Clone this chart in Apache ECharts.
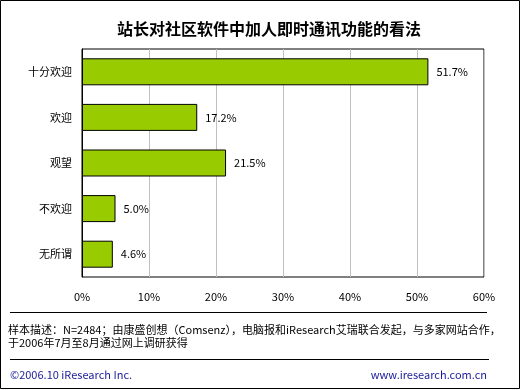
<!DOCTYPE html>
<html><head><meta charset="utf-8">
<script src="https://cdn.jsdelivr.net/npm/echarts@6/dist/echarts.min.js"></script>
<style>html,body{margin:0;padding:0;background:#fff}#c{width:521px;height:390px}</style>
</head><body><div id="c"></div>
<script>
const categories = ['十分欢迎', '欢迎', '观望', '不欢迎', '无所谓'];
const values = [51.7, 17.2, 21.5, 5.0, 4.6];
const xTicks = [0, 10, 20, 30, 40, 50, 60];
const titleText = '站长对社区软件中加人即时通讯功能的看法';
const noteLine1 = '样本描述：N=2484；由康盛创想（Comsenz），电脑报和iResearch艾瑞联合发起，与多家网站合作，';
const noteLine2 = '于2006年7月至8月通过网上调研获得';
const copyright = '©2006.10 iResearch Inc.';
const website = 'www.iresearch.com.cn';

const font = '"Noto Sans CJK SC", sans-serif';
const chart = echarts.init(document.getElementById('c'));
chart.setOption({
  animation: false,
  backgroundColor: '#fff',
  title: { text: titleText, left: 264, top: 16, textAlign: 'center',
    textStyle: { fontFamily: font, fontSize: 16, fontWeight: 'bold', color: '#000' } },
  grid: { left: 82, top: 49, right: 37, bottom: 113, show: true, borderColor: '#000', borderWidth: 1, containLabel: false },
  xAxis: {
    type: 'value', min: xTicks[0], max: xTicks[xTicks.length - 1], interval: 10,
    axisLine: { show: false }, axisTick: { show: false },
    splitLine: { lineStyle: { color: '#c0c0c0', width: 1 } },
    axisLabel: { formatter: v => v + '%', margin: 14, fontFamily: font, fontSize: 11, color: '#000' }
  },
  yAxis: {
    type: 'category', data: categories, inverse: true,
    axisLine: { show: true, lineStyle: { color: '#000' } }, axisTick: { show: false },
    axisLabel: { margin: 10, fontFamily: font, fontSize: 11, color: '#000' }
  },
  series: [{
    type: 'bar', data: values, barWidth: 27,
    itemStyle: { color: '#99cc00', borderColor: '#000', borderWidth: 1 },
    label: { show: true, position: 'right', distance: 8, formatter: p => p.value.toFixed(1) + '%',
      fontFamily: font, fontSize: 11, color: '#000' }
  }],
  graphic: [
    { type: 'rect', shape: { x: 0.5, y: 0.5, width: 519, height: 388 }, style: { fill: 'none', stroke: '#000', lineWidth: 1 }, silent: true },
    { type: 'line', shape: { x1: 10, y1: 312.5, x2: 487, y2: 312.5 }, style: { stroke: '#000', lineWidth: 1 } },
    { type: 'text', left: 8, top: 324, style: { text: noteLine1, font: '11px ' + font, fill: '#000' } },
    { type: 'text', left: 8, top: 337, style: { text: noteLine2, font: '11px ' + font, fill: '#000' } },
    { type: 'line', shape: { x1: 10, y1: 359.5, x2: 489, y2: 359.5 }, style: { stroke: '#000', lineWidth: 1 } },
    { type: 'text', left: 10, top: 369, style: { text: copyright, font: '11px ' + font, fill: '#1a1a99' } },
    { type: 'text', right: 34, top: 369, style: { text: website, font: '11px ' + font, fill: '#1a1a99' } }
  ]
});
</script></body></html>
